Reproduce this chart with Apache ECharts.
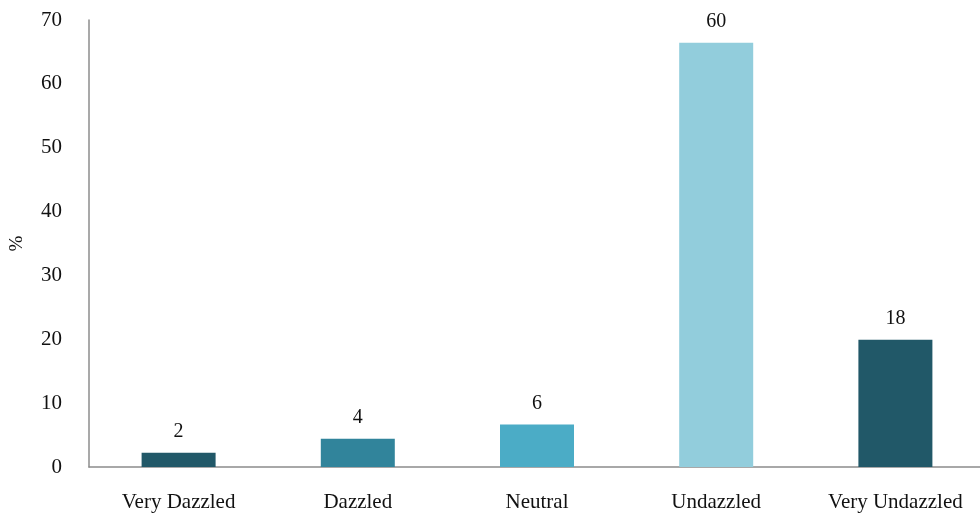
<!DOCTYPE html>
<html>
<head>
<meta charset="utf-8">
<script src="https://cdn.jsdelivr.net/npm/echarts@6/dist/echarts.min.js"></script>
<style>
  html, body { margin: 0; padding: 0; background: #ffffff; }
  #chart { width: 980px; height: 517px; }
</style>
</head>
<body>
<div id="chart"></div>
<script>
// Survey response shares (%)
const categories = ['Very Dazzled', 'Dazzled', 'Neutral', 'Undazzled', 'Very Undazzled'];
const shares = [2, 4, 6, 60, 18];
const barColors = ['#215868', '#31849b', '#4bacc6', '#92cddc', '#215868'];
const tickValues = [0, 10, 20, 30, 40, 50, 60, 70];

const FONT = '"Liberation Serif", "Times New Roman", serif';

const chart = echarts.init(document.getElementById('chart'));

chart.setOption({
  animation: false,
  grid: { left: 89, right: -5, top: 20, bottom: 50, containLabel: false, outerBoundsMode: 'none' },
  xAxis: {
    type: 'category',
    data: categories,
    axisLine: { lineStyle: { color: '#8c8c8c', width: 1.5 } },
    axisTick: { show: false },
    axisLabel: { color: '#111', fontFamily: FONT, fontSize: 21, margin: 25 }
  },
  yAxis: [
    {
      type: 'value',
      min: tickValues[0],
      max: tickValues[tickValues.length - 1],
      interval: 10,
      name: '%',
      nameLocation: 'middle',
      nameRotate: 90,
      nameGap: 62,
      nameTextStyle: { color: '#111', fontFamily: FONT, fontSize: 19 },
      axisLine: { show: true, lineStyle: { color: '#8c8c8c', width: 1.5 } },
      axisTick: { show: false },
      splitLine: { show: false },
      axisLabel: { color: '#111', fontFamily: FONT, fontSize: 21, margin: 27 }
    },
    {
      // scale used by the bars themselves
      type: 'value',
      min: 0,
      max: 63.2,
      show: false,
      splitLine: { show: false }
    }
  ],
  series: [{
    type: 'bar',
    yAxisIndex: 1,
    barWidth: 74,
    data: shares.map((v, i) => ({ value: v, itemStyle: { color: barColors[i] } })),
    label: {
      show: true,
      position: 'top',
      distance: 11,
      color: '#111',
      fontFamily: FONT,
      fontSize: 20
    }
  }]
});
</script>
</body>
</html>
